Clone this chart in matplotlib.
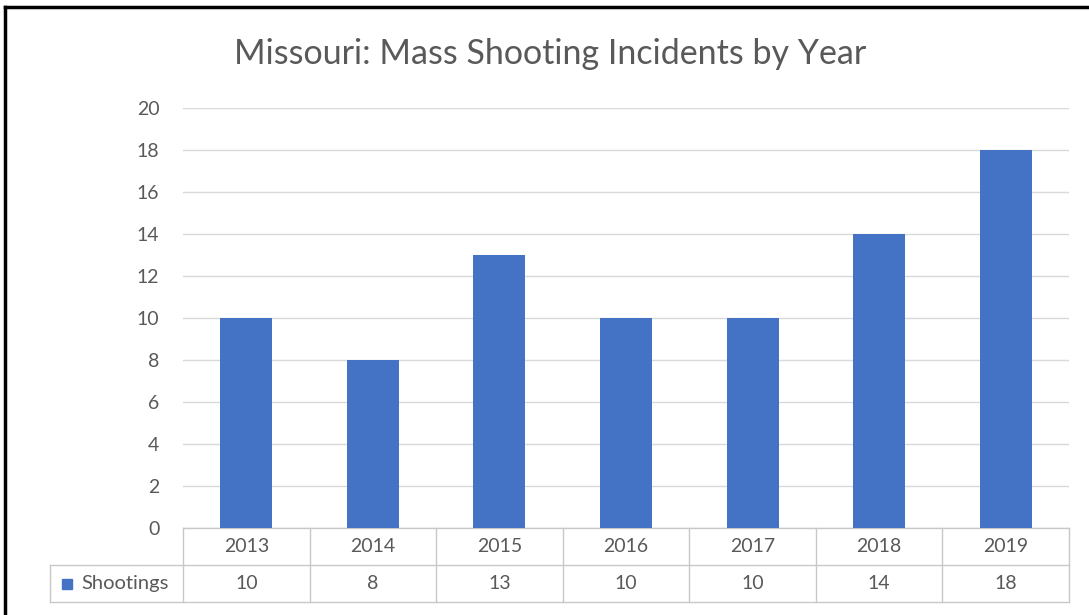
import matplotlib.pyplot as plt
from matplotlib.patches import Rectangle
from matplotlib.lines import Line2D

# data
years = ["2013", "2014", "2015", "2016", "2017", "2018", "2019"]
shootings = [10, 8, 13, 10, 10, 14, 18]
series_name = "Shootings"
title = "Missouri: Mass Shooting Incidents by Year"

blue = "#4472C4"
txt = "#595959"
grid = "#d9d9d9"
tbl = "#c8c8c8"

plt.rcParams['font.family'] = ['Lato', 'DejaVu Sans']

fig = plt.figure(figsize=(10.89, 6.15), dpi=100)
ax = fig.add_axes([183/1089, 1 - 528/615, 886/1089, 420/615])

x = range(len(years))
ax.bar(x, shootings, width=0.41, color=blue, zorder=3)
ax.set_xlim(-0.5, len(years) - 0.5)
ax.set_ylim(0, 20)
ax.set_yticks(range(0, 21, 2))
ax.tick_params(axis='y', length=0, pad=17, labelsize=14, labelcolor=txt)
ax.set_xticks([])
ax.yaxis.grid(True, color=grid, linewidth=1)
for s in ax.spines.values():
    s.set_visible(False)
ax.set_axisbelow(True)

# data table below the plot (axes fraction coords)
h1 = -37/420
h2 = -74/420
left = (50 - 183) / 886
n = len(years)
tr = ax.transAxes
def hline(y, x0, x1):
    ax.add_line(Line2D([x0, x1], [y, y], transform=tr, color=tbl, lw=1, clip_on=False))
def vline(xx, y0, y1):
    ax.add_line(Line2D([xx, xx], [y0, y1], transform=tr, color=tbl, lw=1, clip_on=False))
hline(0, 0, 1)
hline(h1, left, 1)
hline(h2, left, 1)
vline(left, h1, h2)
for i in range(n + 1):
    vline(i / n, 0, h2)
for i, (yr, v) in enumerate(zip(years, shootings)):
    cx = (i + 0.5) / n
    ax.text(cx, h1 / 2, yr, transform=tr, ha='center', va='center', fontsize=14, color=txt)
    ax.text(cx, (h1 + h2) / 2, str(v), transform=tr, ha='center', va='center', fontsize=14, color=txt)
ax.add_patch(Rectangle((12/886 + left, (h1 + h2) / 2 - 5/420), 10/886, 10/420,
                       transform=tr, color=blue, clip_on=False))
ax.text(left + 31/886, (h1 + h2) / 2, series_name, transform=tr, ha='left', va='center',
        fontsize=14.5, color=txt)

fig.text(0.505, 1 - 54/615, title, ha='center', va='center', fontsize=24.5, color=txt)

# outer frame (left and top edges visible)
fig.add_artist(Line2D([5/1089, 5/1089], [0, 1 - 7/615], transform=fig.transFigure, color='black', lw=2.5))
fig.add_artist(Line2D([5/1089, 1], [1 - 7/615, 1 - 7/615], transform=fig.transFigure, color='black', lw=2.5))

fig.savefig("out.png", dpi=100)
